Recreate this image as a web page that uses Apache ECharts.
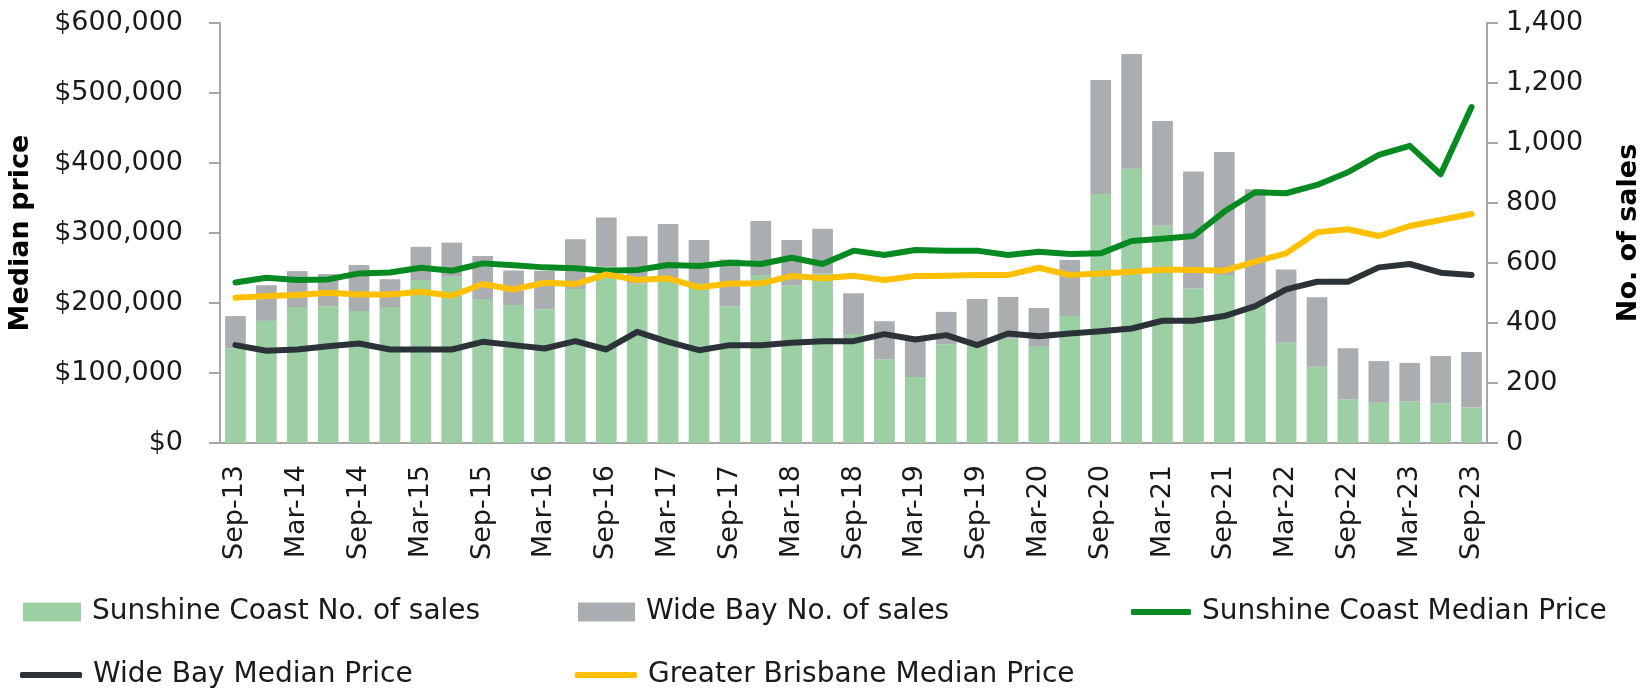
<!DOCTYPE html>
<html>
<head>
<meta charset="utf-8">
<script src="https://cdn.jsdelivr.net/npm/echarts@6/dist/echarts.min.js"></script>
<style>
  html, body { margin: 0; padding: 0; background: #fff; }
  #chart { width: 1643px; height: 692px; }
</style>
</head>
<body>
<div id="chart"></div>
<script>
// quarters, Sep-13 .. Sep-23
var quarters = ['Sep-13', 'Dec-13', 'Mar-14', 'Jun-14', 'Sep-14', 'Dec-14', 'Mar-15', 'Jun-15',
    'Sep-15', 'Dec-15', 'Mar-16', 'Jun-16', 'Sep-16', 'Dec-16', 'Mar-17', 'Jun-17',
    'Sep-17', 'Dec-17', 'Mar-18', 'Jun-18', 'Sep-18', 'Dec-18', 'Mar-19', 'Jun-19',
    'Sep-19', 'Dec-19', 'Mar-20', 'Jun-20', 'Sep-20', 'Dec-20', 'Mar-21', 'Jun-21',
    'Sep-21', 'Dec-21', 'Mar-22', 'Jun-22', 'Sep-22', 'Dec-22', 'Mar-23', 'Jun-23', 'Sep-23'];

// no. of sales (stacked bars, right axis)
var sunshineSales = [316, 407, 453, 456, 440, 453, 543, 554, 480, 460, 446, 513, 590, 532, 543, 533,
    456, 560, 526, 565, 363, 279, 220, 329, 326, 348, 323, 423, 830, 914, 724, 515,
    560, 455, 334, 254, 146, 134, 138, 132, 119];
var wideBaySales = [107, 119, 120, 107, 153, 93, 111, 114, 143, 115, 128, 166, 162, 157, 187, 144,
    156, 180, 151, 149, 136, 127, 135, 108, 154, 139, 127, 187, 380, 383, 349, 390,
    410, 391, 244, 232, 170, 139, 129, 158, 184];

// median prices (lines, left axis)
var sunshinePrice = [229400, 236100, 232800, 233700, 242300, 243700, 250400, 246100, 256600, 253800,
    250900, 249500, 246000, 247100, 254200, 252800, 257600, 255700, 264700, 255700,
    274800, 268600, 275700, 274800, 274800, 268600, 273300, 270000, 270900, 288600,
    291900, 295700, 330600, 358200, 356800, 368700, 386800, 411700, 424500, 384000, 479900];
var wideBayPrice = [139800, 131700, 133600, 138300, 142100, 133600, 133600, 133600, 144500, 139800,
    135000, 145500, 133600, 158800, 144500, 132600, 139800, 139800, 143100, 145500,
    145500, 155500, 147900, 154100, 139800, 156500, 152600, 156500, 159800, 163600,
    174600, 174600, 181300, 195600, 219400, 230400, 230400, 250900, 255700, 243300, 239900];
var brisbanePrice = [207500, 209900, 211300, 214700, 212300, 212300, 216100, 210400, 227100, 219400,
    229000, 227100, 240900, 232800, 235200, 222300, 228000, 228000, 238500, 235200,
    239000, 232800, 238500, 239000, 239900, 239900, 250400, 239900, 242300, 244700,
    248000, 247100, 246100, 259000, 270900, 301000, 305300, 295700, 310000, 318600, 327200];

var priceTicks = { min: 0, max: 600000, interval: 100000 };
var salesTicks = { min: 0, max: 1400, interval: 200 };

(function () {
    var myChart = echarts.init(document.getElementById('chart'));
    var font = 'DejaVu Sans';
    var axisGrey = '#a6a6a6';
    var legendText = { fontFamily: font, fontSize: 28, color: '#1a1a1a', padding: [0, 0, 0, 6] };

    // one legend per item so the columns line up like the original
    function legendItem(name, left, top, w, h, icon) {
        return {
            data: [name], left: left, top: top, itemWidth: w, itemHeight: h, itemGap: 0,
            icon: icon, padding: 0, textStyle: legendText, selectedMode: false
        };
    }

    var option = {
        animation: false,
        textStyle: { fontFamily: font },
        grid: { left: 220, right: 156, top: 23, bottom: 249, containLabel: false, outerBoundsMode: 'none' },
        legend: [
            legendItem('Sunshine Coast No. of sales', 23, 598, 58, 19, 'rect'),
            legendItem('Wide Bay No. of sales', 578, 598, 57, 19, 'rect'),
            legendItem('Sunshine Coast Median Price', 1131, 598, 60, 6, 'roundRect'),
            legendItem('Wide Bay Median Price', 20, 661, 62, 6, 'roundRect'),
            legendItem('Greater Brisbane Median Price', 575, 661, 62, 6, 'roundRect')
        ],
        xAxis: {
            type: 'category',
            data: quarters,
            axisLine: { lineStyle: { color: axisGrey, width: 2 } },
            axisTick: { interval: 0, length: 10, lineStyle: { color: axisGrey, width: 2 } },
            axisLabel: {
                interval: 1, rotate: 90, margin: 22,
                fontFamily: font, fontSize: 27, color: '#1a1a1a'
            }
        },
        yAxis: [
            {
                type: 'value',
                name: 'Median price',
                nameLocation: 'middle',
                nameGap: 186,
                nameTextStyle: { fontFamily: font, fontSize: 27, fontWeight: 'bold', color: '#000' },
                min: priceTicks.min, max: priceTicks.max, interval: priceTicks.interval,
                splitLine: { show: false },
                axisLine: { show: true, lineStyle: { color: axisGrey, width: 2 } },
                axisTick: { show: true, length: 11, lineStyle: { color: axisGrey, width: 2 } },
                axisLabel: {
                    margin: 37, fontFamily: font, fontSize: 27, color: '#1a1a1a',
                    formatter: function (v) { return '$' + v.toLocaleString('en-US'); }
                }
            },
            {
                type: 'value',
                name: 'No. of sales',
                nameLocation: 'middle',
                nameGap: 128,
                nameRotate: 90,
                nameTextStyle: { fontFamily: font, fontSize: 27, fontWeight: 'bold', color: '#000' },
                min: salesTicks.min, max: salesTicks.max, interval: salesTicks.interval,
                splitLine: { show: false },
                axisLine: { show: true, lineStyle: { color: axisGrey, width: 2 } },
                axisTick: { show: true, length: 11, lineStyle: { color: axisGrey, width: 2 } },
                axisLabel: {
                    margin: 19, fontFamily: font, fontSize: 27, color: '#1a1a1a',
                    formatter: function (v) { return v.toLocaleString('en-US'); }
                }
            }
        ],
        series: [
            {
                name: 'Sunshine Coast No. of sales', type: 'bar', stack: 'sales', yAxisIndex: 1,
                data: sunshineSales, barCategoryGap: '33%',
                itemStyle: { color: '#9dcfa5' }
            },
            {
                name: 'Wide Bay No. of sales', type: 'bar', stack: 'sales', yAxisIndex: 1,
                data: wideBaySales, barCategoryGap: '33%',
                itemStyle: { color: '#abaeb1' }
            },
            {
                name: 'Sunshine Coast Median Price', type: 'line', yAxisIndex: 0,
                data: sunshinePrice, symbol: 'none',
                lineStyle: { color: '#078a22', width: 6, cap: 'round', join: 'round' },
                itemStyle: { color: '#078a22' }
            },
            {
                name: 'Wide Bay Median Price', type: 'line', yAxisIndex: 0,
                data: wideBayPrice, symbol: 'none',
                lineStyle: { color: '#2b3339', width: 6, cap: 'round', join: 'round' },
                itemStyle: { color: '#2b3339' }
            },
            {
                name: 'Greater Brisbane Median Price', type: 'line', yAxisIndex: 0,
                data: brisbanePrice, symbol: 'none',
                lineStyle: { color: '#ffc000', width: 6, cap: 'round', join: 'round' },
                itemStyle: { color: '#ffc000' }
            }
        ]
    };

    myChart.setOption(option);
})();
</script>
</body>
</html>
